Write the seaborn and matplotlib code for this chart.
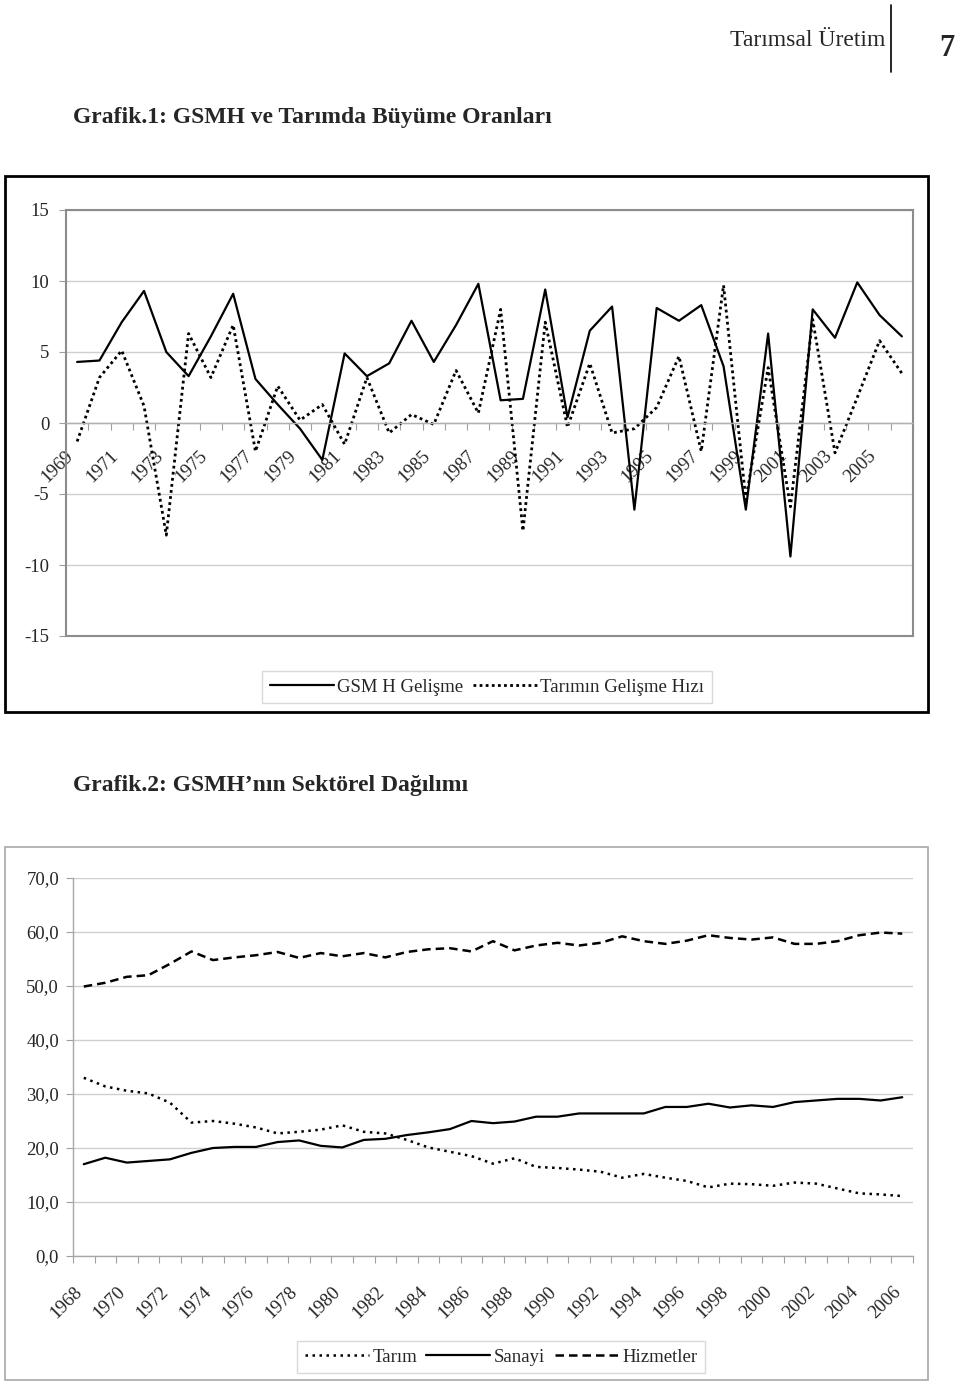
import numpy as np
import pandas as pd
import matplotlib
matplotlib.use("Agg")
import matplotlib.pyplot as plt
import matplotlib.transforms as mtransforms
from matplotlib.patches import Rectangle
from matplotlib.lines import Line2D
from matplotlib.ticker import FuncFormatter
import seaborn as sns

# --- Data: Grafik.1 (growth rates, %) ---
years_growth = list(range(1969, 2007))
gsmh_growth = [4.3, 4.4, 7.1, 9.3, 5.0, 3.3, 6.1, 9.1, 3.1, 1.3,
               -0.4, -2.6, 4.9, 3.3, 4.2, 7.2, 4.3, 6.9, 9.8, 1.6,
               1.7, 9.4, 0.4, 6.5, 8.2, -6.1, 8.1, 7.2, 8.3, 4.0,
               -6.1, 6.3, -9.4, 8.0, 6.0, 9.9, 7.6, 6.1]
tarim_growth = [-1.3, 3.2, 5.1, 1.2, -7.9, 6.3, 3.2, 6.9, -2.0, 2.6,
                0.2, 1.3, -1.5, 3.2, -0.7, 0.6, -0.1, 3.7, 0.7, 8.0,
                -7.6, 7.1, -0.3, 4.2, -0.7, -0.4, 1.1, 4.7, -2.0, 9.7,
                -5.4, 3.9, -5.9, 7.3, -2.1, 1.8, 5.8, 3.5]

# --- Data: Grafik.2 (sector shares, %) ---
years_share = list(range(1968, 2007))
tarim_share = [33.0, 31.4, 30.6, 30.1, 28.4, 24.7, 25.0, 24.5, 23.8, 22.7,
               23.0, 23.4, 24.2, 23.0, 22.7, 21.5, 20.1, 19.3, 18.5, 17.1,
               18.1, 16.5, 16.3, 16.0, 15.6, 14.5, 15.2, 14.5, 13.9, 12.7,
               13.4, 13.3, 13.0, 13.6, 13.4, 12.5, 11.6, 11.4, 11.1]
sanayi_share = [17.0, 18.2, 17.3, 17.6, 17.9, 19.1, 20.0, 20.2, 20.2, 21.1,
                21.4, 20.4, 20.1, 21.5, 21.7, 22.4, 22.9, 23.5, 25.0, 24.6,
                24.9, 25.8, 25.8, 26.4, 26.4, 26.4, 26.4, 27.6, 27.6, 28.2,
                27.5, 27.9, 27.6, 28.5, 28.8, 29.1, 29.1, 28.8, 29.4]
hizmet_share = [49.9, 50.6, 51.7, 52.0, 54.1, 56.4, 54.8, 55.3, 55.7, 56.3,
                55.2, 56.1, 55.5, 56.1, 55.3, 56.3, 56.8, 57.0, 56.4, 58.3,
                56.6, 57.5, 58.0, 57.5, 58.0, 59.2, 58.3, 57.8, 58.4, 59.4,
                58.9, 58.6, 59.0, 57.8, 57.8, 58.3, 59.4, 59.9, 59.7]

df1 = pd.DataFrame({"Yil": years_growth, "GSMH": gsmh_growth, "Tarim": tarim_growth})
df2 = pd.DataFrame({"Yil": years_share, "Tarim": tarim_share,
                    "Sanayi": sanayi_share, "Hizmetler": hizmet_share})

# --- Style ---
sns.set_theme(style="white")
plt.rcParams["font.family"] = ["Liberation Serif", "DejaVu Serif"]
plt.rcParams["font.size"] = 13.5
plt.rcParams["axes.unicode_minus"] = False

W, H = 960, 1382
fig = plt.figure(figsize=(W / 100, H / 100), dpi=100)


def fx(px):
    return px / W


def fy(py):
    return 1 - py / H


frame_gray = "#8c8c8c"
grid_gray = "#cfcfcf"
tick_fs = 13.5
dotted_top = (0, (1, 1.2))
dotted_bot = (0, (1, 1.8))
dashed_bot = (0, (3.4, 2.0))

# header
fig.text(fx(885), fy(40), "Tarımsal Üretim", ha="right", va="center", fontsize=17)
fig.add_artist(Line2D([fx(891), fx(891)], [fy(5), fy(72)], color="black", lw=1.2,
                      transform=fig.transFigure))
fig.text(fx(947), fy(48), "7", ha="center", va="center", fontsize=22, fontweight="bold")

# ---------------- Grafik.1 ----------------
fig.text(fx(73), fy(118), "Grafik.1: GSMH ve Tarımda Büyüme Oranları",
         ha="left", va="center", fontsize=17, fontweight="bold")
fig.add_artist(Rectangle((fx(5), fy(712)), fx(928) - fx(5), fy(176) - fy(712),
                         transform=fig.transFigure, fill=False, ec="black", lw=2))

ax1 = fig.add_axes([fx(66), fy(636), fx(913) - fx(66), fy(210) - fy(636)])
sns.lineplot(data=df1, x="Yil", y="GSMH", ax=ax1, color="black", lw=1.6)
sns.lineplot(data=df1, x="Yil", y="Tarim", ax=ax1, color="black", lw=2.0,
             linestyle=dotted_top)
ax1.set_xlim(years_growth[0] - 0.5, years_growth[-1] + 0.5)
ax1.set_ylim(-15, 15)
ax1.set_yticks(np.arange(-15, 16, 5))
ax1.yaxis.grid(True, color=grid_gray, lw=1)
ax1.set_axisbelow(True)
ax1.set_xlabel("")
ax1.set_ylabel("")
for side in ["top", "right", "left"]:
    ax1.spines[side].set_color(frame_gray)
    ax1.spines[side].set_linewidth(1.5)
ax1.spines["bottom"].set_position(("data", 0))
ax1.spines["bottom"].set_color("#b0b0b0")
ax1.spines["bottom"].set_linewidth(1)
ax1.axhline(-15, color=frame_gray, lw=1.5, clip_on=False)
ax1.set_xticks(years_growth[::2])
ax1.set_xticks(np.arange(years_growth[0] - 0.5, years_growth[-1] + 0.6, 1), minor=True)
ax1.tick_params(axis="x", which="major", length=0, pad=22, labelsize=tick_fs)
ax1.tick_params(axis="x", which="minor", length=5, width=0.8, color="#a0a0a0",
                direction="out", bottom=True)
ax1.tick_params(axis="y", length=5, width=0.8, color="#a0a0a0", left=True,
                direction="out", pad=7, labelsize=tick_fs)
off1 = mtransforms.ScaledTranslation(-0.06, 0, fig.dpi_scale_trans)
for lab in ax1.get_xticklabels():
    lab.set_rotation(45)
    lab.set_ha("right")
    lab.set_va("center")
    lab.set_rotation_mode("anchor")
    lab.set_transform(lab.get_transform() + off1)

h1 = [Line2D([], [], color="black", lw=1.6),
      Line2D([], [], color="black", lw=2.0, linestyle=dotted_top)]
leg1 = fig.legend(h1, ["GSM H Gelişme", "Tarımın Gelişme Hızı"], ncol=2,
                  loc="center", bbox_to_anchor=(fx(487), fy(687)),
                  frameon=True, fancybox=False, edgecolor="#d0d0d0",
                  handlelength=3.4, handletextpad=0.2, columnspacing=0.5,
                  borderpad=0.4, fontsize=13.5)
leg1.get_frame().set_linewidth(1)

# ---------------- Grafik.2 ----------------
fig.text(fx(73), fy(785), "Grafik.2: GSMH’nın Sektörel Dağılımı",
         ha="left", va="center", fontsize=17, fontweight="bold")
fig.add_artist(Rectangle((fx(5), fy(1380)), fx(928) - fx(5), fy(847) - fy(1380),
                         transform=fig.transFigure, fill=False, ec="#a8a8a8", lw=1.2))

ax2 = fig.add_axes([fx(73), fy(1256), fx(913) - fx(73), fy(878) - fy(1256)])
sns.lineplot(data=df2, x="Yil", y="Tarim", ax=ax2, color="black", lw=1.8,
             linestyle=dotted_bot)
sns.lineplot(data=df2, x="Yil", y="Sanayi", ax=ax2, color="black", lw=1.6)
sns.lineplot(data=df2, x="Yil", y="Hizmetler", ax=ax2, color="black", lw=1.8,
             linestyle=dashed_bot)
ax2.set_xlim(years_share[0] - 0.5, years_share[-1] + 0.5)
ax2.set_ylim(0, 70)
ax2.set_yticks(np.arange(0, 71, 10))
ax2.yaxis.set_major_formatter(FuncFormatter(lambda v, p: f"{v:.1f}".replace(".", ",")))
ax2.yaxis.grid(True, color=grid_gray, lw=1)
ax2.set_axisbelow(True)
ax2.set_xlabel("")
ax2.set_ylabel("")
ax2.spines["top"].set_visible(False)
ax2.spines["right"].set_visible(False)
for side in ["left", "bottom"]:
    ax2.spines[side].set_color("#a8a8a8")
    ax2.spines[side].set_linewidth(1)
ax2.set_xticks(years_share[::2])
ax2.set_xticks(np.arange(years_share[0] - 0.5, years_share[-1] + 0.6, 1), minor=True)
ax2.tick_params(axis="x", which="major", length=0, pad=24, labelsize=tick_fs)
ax2.tick_params(axis="x", which="minor", length=5, width=0.8, color="#a0a0a0",
                direction="out", bottom=True)
ax2.tick_params(axis="y", length=5, width=0.8, color="#a0a0a0", left=True,
                direction="out", pad=5, labelsize=tick_fs)
off2 = mtransforms.ScaledTranslation(-0.04, 0, fig.dpi_scale_trans)
for lab in ax2.get_xticklabels():
    lab.set_rotation(45)
    lab.set_ha("right")
    lab.set_va("center")
    lab.set_rotation_mode("anchor")
    lab.set_transform(lab.get_transform() + off2)

h2 = [Line2D([], [], color="black", lw=1.8, linestyle=dotted_bot),
      Line2D([], [], color="black", lw=1.6),
      Line2D([], [], color="black", lw=1.8, linestyle=dashed_bot)]
leg2 = fig.legend(h2, ["Tarım", "Sanayi", "Hizmetler"], ncol=3,
                  loc="center", bbox_to_anchor=(fx(501), fy(1357)),
                  frameon=True, fancybox=False, edgecolor="#d0d0d0",
                  handlelength=3.4, handletextpad=0.2, columnspacing=0.5,
                  borderpad=0.4, fontsize=13.5)
leg2.get_frame().set_linewidth(1)

fig.savefig("out.png", dpi=100, facecolor="white")
